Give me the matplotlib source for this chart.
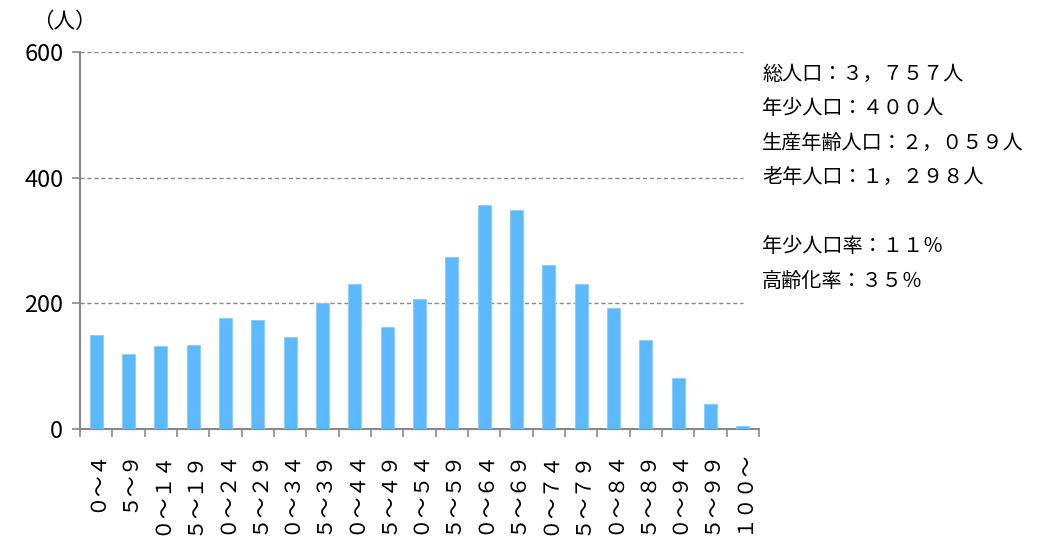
import numpy as np
import matplotlib.pyplot as plt

plt.rcParams['font.family'] = ['Noto Sans CJK JP', 'DejaVu Sans']

# 年齢階級別人口
ages = ['０～４', '５～９', '１０～１４', '１５～１９', '２０～２４', '２５～２９',
        '３０～３４', '３５～３９', '４０～４４', '４５～４９', '５０～５４', '５５～５９',
        '６０～６４', '６５～６９', '７０～７４', '７５～７９', '８０～８４', '８５～８９',
        '９０～９４', '９５～９９', '１００～']
population = [149, 119, 132, 133, 177, 174, 146, 200, 231, 162, 207, 273,
              356, 349, 261, 230, 192, 141, 81, 40, 4]

summary = ['総人口：３，７５７人', '年少人口：４００人', '生産年齢人口：２，０５９人',
           '老年人口：１，２９８人', '', '年少人口率：１１％', '高齢化率：３５％']

yticks = [0, 200, 400, 600]

fig = plt.figure(figsize=(10.42, 5.37), dpi=100)
ax = fig.add_axes([80 / 1042, 1 - 429 / 537, 679 / 1042, 377 / 537])

x = np.arange(len(ages))
ax.bar(x, population, width=0.4, color='#5CB8FF', edgecolor='#8ACBFF', linewidth=0.6, zorder=3)

ax.set_xlim(-0.5, len(ages) - 0.5)
ax.set_ylim(0, 600)

# 補助線（破線）
for v in yticks[1:]:
    ax.axhline(v, xmin=0, xmax=0.977, color='#888888', linestyle=(0, (3, 2)), linewidth=1, zorder=1)

ax.set_yticks(yticks)
ax.set_yticklabels([str(v) for v in yticks], fontsize=17)
ax.tick_params(axis='y', length=6, width=1.2, color='#888888', pad=6)

# 目盛は階級の境目、ラベルは中央
ax.set_xticks(np.arange(len(ages) + 1) - 0.5)
ax.set_xticklabels([])
ax.tick_params(axis='x', length=6, width=1.2, color='#888888')
ax.set_xticks(x, minor=True)
ax.set_xticklabels(ages, minor=True, rotation=90, fontsize=15, va='top')
ax.tick_params(axis='x', which='minor', length=0, pad=15)

for side in ['top', 'right']:
    ax.spines[side].set_visible(False)
for side in ['left', 'bottom']:
    ax.spines[side].set_color('#888888')
    ax.spines[side].set_linewidth(1.5)

fig.text(32 / 1042, 1 - 22 / 537, '（人）', fontsize=15.5, va='center', ha='left')

for i, line in enumerate(summary):
    fig.text(762 / 1042, 1 - (74 + 34.6 * i) / 537, line, fontsize=14.5, va='center', ha='left')

fig.savefig('out.png', dpi=100)
